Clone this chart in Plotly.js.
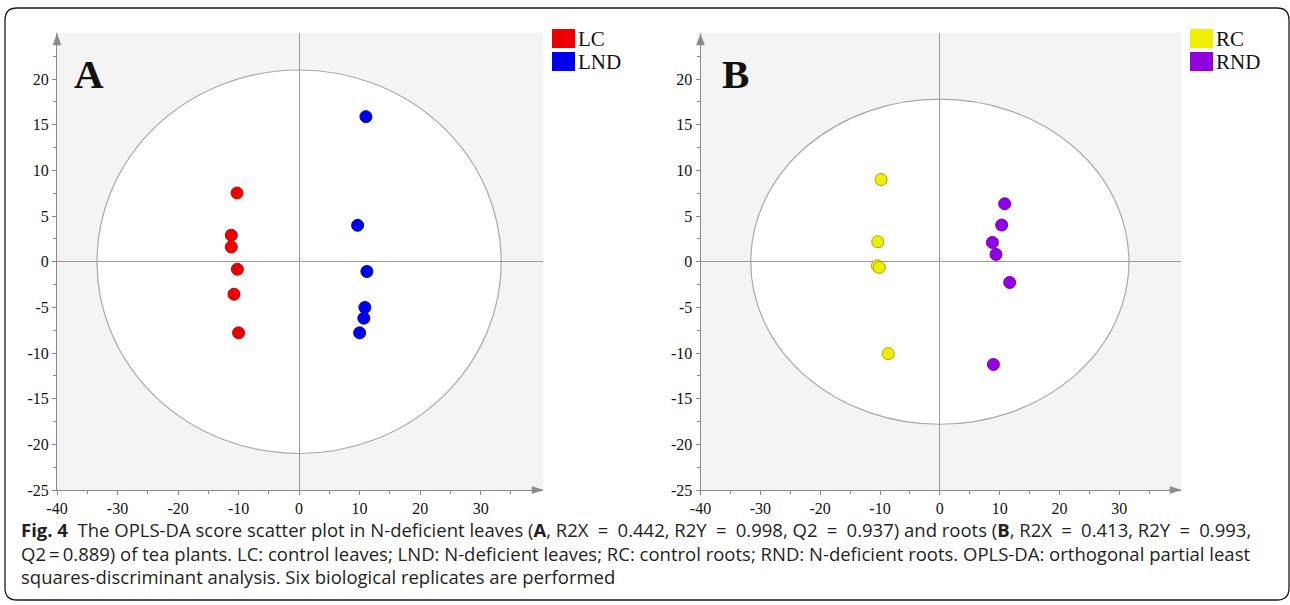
<!DOCTYPE html>
<html>
<head>
<meta charset="utf-8">
<script src="https://cdn.plot.ly/plotly-3.0.1.min.js"></script>
<style>
  html, body { margin: 0; padding: 0; background: #ffffff; }
  #chart { width: 1290px; height: 605px; }
</style>
</head>
<body>
<div id="chart"></div>
<script>
// ---------- data ----------
const lcX  = [-10.26, -11.2, -11.2, -10.2, -10.76, -10.0];
const lcY  = [7.53, 2.9, 1.62, -0.82, -3.56, -7.79];
const lndX = [11.04, 9.67, 11.2, 10.87, 10.7, 10.0];
const lndY = [15.89, 3.99, -1.07, -5.01, -6.18, -7.79];

const rcX  = [-9.83, -10.38, -10.45, -10.12, -8.62];
const rcY  = [9.0, 2.19, -0.44, -0.62, -10.07];
const rndX = [10.83, 10.33, 8.78, 9.38, 11.67, 8.95];
const rndY = [6.35, 4.02, 2.11, 0.8, -2.27, -11.25];

const xTickVals = [-40, -30, -20, -10, 0, 10, 20, 30];
const xMinorVals = [-35, -25, -15, -5, 5, 15, 25, 35];
const yTickVals = [-25, -20, -15, -10, -5, 0, 5, 10, 15, 20];
const yMinorVals = [-22.5, -17.5, -12.5, -7.5, -2.5, 2.5, 7.5, 12.5, 17.5, 22.5];

const legendA = ["LC", "LND"];
const legendB = ["RC", "RND"];
const panelLabels = ["A", "B"];

const EQ1 = "\u2002=\u2002";
const EQ2 = "\u2009=\u2009";
const captionLines = [
  "<b>Fig. 4</b>  The OPLS-DA score scatter plot in N-deficient leaves (<b>A</b>, R2X" + EQ1 + "0.442, R2Y" + EQ1 + "0.998, Q2" + EQ1 + "0.937) and roots (<b>B</b>, R2X" + EQ1 + "0.413, R2Y" + EQ1 + "0.993,",
  "Q2" + EQ2 + "0.889) of tea plants. LC: control leaves; LND: N-deficient leaves; RC: control roots; RND: N-deficient roots. OPLS-DA: orthogonal partial least",
  "squares-discriminant analysis. Six biological replicates are performed"
];

// ellipse semi-axes (data units)
const ellA = [33.4, 21.0];
const ellB = [31.6, 17.8];

// ---------- helpers ----------
const W = 1290, H = 605;
const px = x => x / W;
const py = y => 1 - y / H;

const C = {
  red: "#ee0000", redL: "#c40000",
  blue: "#0000ee", blueL: "#0000c0",
  yellow: "#eeee00", yellowL: "#a9a900",
  purple: "#9200e8", purpleL: "#7400bb",
  axis: "#8a8a8a"
};

function sc(x, y, xa, ya, fill, line) {
  return {
    type: "scatter", mode: "markers", x: x, y: y, xaxis: xa, yaxis: ya,
    marker: { size: 12, color: fill, line: { color: line, width: 1 } },
    hoverinfo: "skip", cliponaxis: false
  };
}

const data = [
  sc(lcX, lcY, "x", "y", C.red, C.redL),
  sc(lndX, lndY, "x", "y", C.blue, C.blueL),
  sc(rcX, rcY, "x2", "y2", C.yellow, C.yellowL),
  sc(rndX, rndY, "x2", "y2", C.purple, C.purpleL)
];

const serif = "Liberation Serif, serif";
const tickFont = { family: serif, size: 16, color: "#111" };

function xAxis(domain, anchor) {
  return {
    domain: domain, anchor: anchor, range: [-40, 40.3],
    tickmode: "array", tickvals: xTickVals, ticktext: xTickVals.map(String),
    ticks: "outside", ticklen: 4, tickcolor: C.axis, tickwidth: 1,
    minor: { tickmode: "array", tickvals: xMinorVals, ticks: "outside", ticklen: 3, tickcolor: C.axis },
    showline: true, linecolor: C.axis, linewidth: 1,
    showgrid: false, zeroline: true, zerolinecolor: "#9a9a9a", zerolinewidth: 1,
    tickfont: tickFont, fixedrange: true
  };
}
function yAxis(domain, anchor) {
  return {
    domain: domain, anchor: anchor, range: [-25, 25.05],
    tickmode: "array", tickvals: yTickVals, ticktext: yTickVals.map(String),
    ticks: "outside", ticklen: 4, tickcolor: C.axis, tickwidth: 1,
    minor: { tickmode: "array", tickvals: yMinorVals, ticks: "outside", ticklen: 3, tickcolor: C.axis },
    showline: true, linecolor: C.axis, linewidth: 1,
    showgrid: false, zeroline: true, zerolinecolor: "#9a9a9a", zerolinewidth: 1,
    tickfont: tickFont, fixedrange: true
  };
}

const yDom = [py(490), py(33)];

const shapes = [
  { type: "circle", xref: "x", yref: "y", x0: -ellA[0], x1: ellA[0], y0: -ellA[1], y1: ellA[1],
    fillcolor: "#ffffff", line: { color: "#a8a8a8", width: 1.2 }, layer: "below" },
  { type: "circle", xref: "x2", yref: "y2", x0: -ellB[0], x1: ellB[0], y0: -ellB[1], y1: ellB[1],
    fillcolor: "#ffffff", line: { color: "#a8a8a8", width: 1.2 }, layer: "below" }
];

function upArrow(x, ytip) {
  return { type: "path", xref: "paper", yref: "paper",
    path: `M ${px(x - 4)},${py(ytip + 11)} L ${px(x + 4)},${py(ytip + 11)} L ${px(x)},${py(ytip)} Z`,
    fillcolor: C.axis, line: { color: C.axis, width: 0.5 } };
}
function rightArrow(xtip, y) {
  return { type: "path", xref: "paper", yref: "paper",
    path: `M ${px(xtip - 11)},${py(y - 3.5)} L ${px(xtip - 11)},${py(y + 3.5)} L ${px(xtip)},${py(y)} Z`,
    fillcolor: C.axis, line: { color: C.axis, width: 0.5 } };
}
shapes.push(upArrow(57, 34), rightArrow(543, 490), upArrow(700.5, 34), rightArrow(1181, 490));

function sq(x0, y0, color) {
  return { type: "rect", xref: "paper", yref: "paper",
    x0: px(x0), x1: px(x0 + 23), y0: py(y0 + 19), y1: py(y0),
    fillcolor: color, line: { width: 0 } };
}
shapes.push(sq(552, 29, C.red), sq(552, 52, C.blue), sq(1190, 29, "#f0f000"), sq(1190, 52, "#9200e0"));

(function () {
  const L = 5, R = 1289, T = 8, B = 600, rx = 12, ry = 12;
  const p = [
    `M ${px(L)},${py(B - ry)}`,
    `L ${px(L)},${py(T + ry)}`,
    `Q ${px(L)},${py(T)} ${px(L + rx)},${py(T)}`,
    `L ${px(R - rx)},${py(T)}`,
    `Q ${px(R)},${py(T)} ${px(R)},${py(T + ry)}`,
    `L ${px(R)},${py(B - ry)}`,
    `Q ${px(R)},${py(B)} ${px(R - rx)},${py(B)}`,
    `L ${px(L + rx)},${py(B)}`,
    `Q ${px(L)},${py(B)} ${px(L)},${py(B - ry)}`
  ].join(" ");
  shapes.push({ type: "path", xref: "paper", yref: "paper", path: p, line: { color: "#1a1a1a", width: 1.3 } });
})();

const annotations = [];
function txt(x, y, text, size, opts) {
  annotations.push(Object.assign({
    xref: "paper", yref: "paper", x: px(x), y: py(y), text: text, showarrow: false,
    xanchor: "left", yanchor: "middle",
    font: { family: serif, size: size, color: "#111" }
  }, opts || {}));
}
txt(88.5, 74, "<b>" + panelLabels[0] + "</b>", 41, { xanchor: "center" });
txt(735, 74, "<b>" + panelLabels[1] + "</b>", 41, { xanchor: "center" });
txt(576, 39, legendA[0], 21);
txt(576, 62, legendA[1], 21);
txt(1214, 39, legendB[0], 21);
txt(1214, 62, legendB[1], 21);

const capFont = { family: "Open Sans", size: 18.5, color: "#231f20" };
const capY = [529, 553, 576];
captionLines.forEach((t, i) => {
  annotations.push({ xref: "paper", yref: "paper", x: px(19), y: py(capY[i]), text: t,
    showarrow: false, xanchor: "left", yanchor: "middle", font: capFont });
});

const layout = {
  width: W, height: H,
  margin: { l: 0, r: 0, t: 0, b: 0 },
  font: { family: serif, size: 16, color: "#111" },
  paper_bgcolor: "#ffffff", plot_bgcolor: "#f4f4f4",
  showlegend: false,
  xaxis: xAxis([px(57), px(543)], "y"),
  yaxis: yAxis(yDom, "x"),
  xaxis2: xAxis([px(700.5), px(1181)], "y2"),
  yaxis2: yAxis(yDom, "x2"),
  shapes: shapes,
  annotations: annotations
};

Plotly.newPlot("chart", data, layout, { displayModeBar: false, staticPlot: true });
</script>
</body>
</html>
